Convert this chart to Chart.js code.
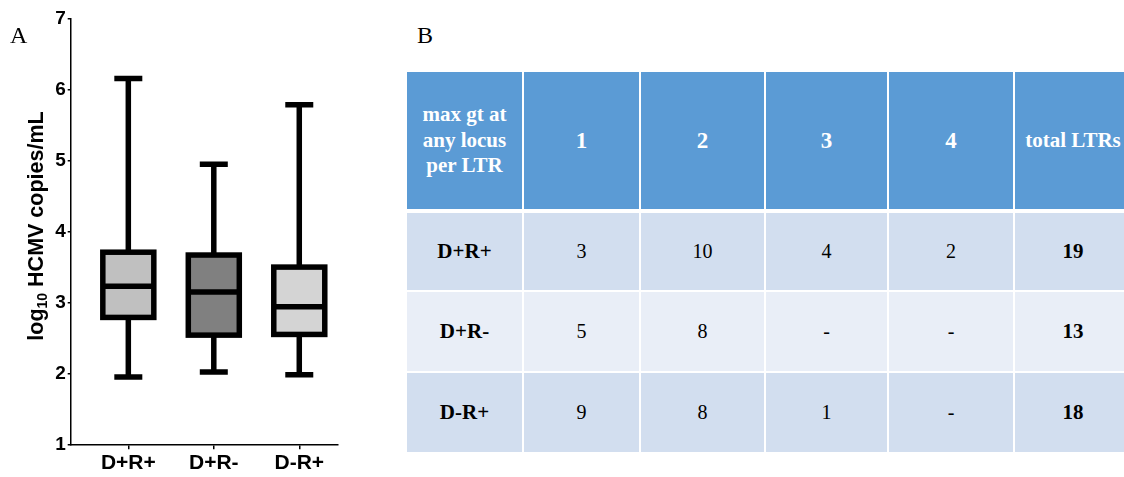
<!DOCTYPE html>
<html>
<head>
<meta charset="utf-8">
<script src="https://cdn.jsdelivr.net/npm/chart.js@4.4.1/dist/chart.umd.min.js"></script>
<style>
  html, body { margin: 0; padding: 0; background: #fff; }
  body { width: 1124px; height: 477px; position: relative; overflow: hidden; }
  #c { position: absolute; left: 0; top: 0; }
  .panel { position: absolute; font-family: "Liberation Serif", serif; font-size: 24px; line-height: 24px; color: #000; }
  #ytitle {
    position: absolute; left: 36px; top: 226px;
    transform: translate(-50%, -50%) rotate(-90deg);
    font-family: "Liberation Sans", Arial, sans-serif; font-weight: bold; font-size: 21.5px;
    white-space: nowrap; color: #000; line-height: 24px;
  }
  #ytitle sub { font-size: 14px; vertical-align: -4px; line-height: 0; }
  #tbl {
    position: absolute; left: 407px; top: 72px;
    display: grid;
    grid-template-columns: 115px 115px 123px 121px 124px 116px;
    grid-template-rows: 139px 77px 79px 79px;
    column-gap: 2px; row-gap: 2px;
    font-family: "Liberation Serif", "Times New Roman", serif;
  }
  #tbl div { display: flex; align-items: center; justify-content: center; text-align: center; }
  #tbl .hd { background: #5b9bd5; color: #fff; font-weight: bold; font-size: 21px; line-height: 25.5px; margin-bottom: 2px; }
  #tbl .hd.num { font-size: 23px; }
  #tbl .r0, #tbl .r2 { background: #d2deef; }
  #tbl .r1 { background: #e9eef7; }
  #tbl .cell { font-size: 20px; color: #000; }
  #tbl .b { font-weight: bold; font-size: 21px; }
</style>
</head>
<body>
<canvas id="c" width="360" height="477"></canvas>
<div id="ytitle">log<sub>10</sub> HCMV copies/mL</div>
<div class="panel" style="left:10px; top:23px;">A</div>
<div class="panel" style="left:417px; top:23px;">B</div>
<div id="tbl"></div>

<script>
// Transplant groups (donor/recipient serostatus)
const groups = ['D+R+', 'D+R-', 'D-R+'];

// Box plot summary per group, log10 HCMV copies/mL
const whiskerMin = [1.95, 2.02, 1.98];
const quartile1  = [2.79, 2.54, 2.55];
const medians    = [3.23, 3.15, 2.94];
const quartile3  = [3.71, 3.67, 3.50];
const whiskerMax = [6.16, 4.95, 5.79];
const boxFill    = ['#c0c0c0', '#808080', '#d4d4d4'];

// Y axis range and tick step
const yTicksMin = 1;
const yTicksMax = 7;

// Table: LTR counts by max genotypes at any locus
const tableCorner = 'max gt at<br>any locus<br>per LTR';
const gtLevels = ['1', '2', '3', '4'];
const totalLabel = 'total LTRs';
const gt1 = [3, 5, 9];
const gt2 = [10, 8, 8];
const gt3 = [4, null, 1];
const gt4 = [2, null, null];
const totalLTRs = [19, 13, 18];

// ---- table ----
(function buildTable() {
  const tbl = document.getElementById('tbl');
  const add = (cls, html) => {
    const d = document.createElement('div');
    d.className = cls;
    d.innerHTML = html;
    tbl.appendChild(d);
  };
  add('hd', tableCorner);
  gtLevels.forEach(g => add('hd num', g));
  add('hd', totalLabel);
  const cols = [gt1, gt2, gt3, gt4];
  groups.forEach((g, r) => {
    const rc = 'r' + r + ' cell';
    add(rc + ' b', g);
    cols.forEach(col => add(rc, col[r] == null ? '-' : String(col[r])));
    add(rc + ' b', String(totalLTRs[r]));
  });
})();

// ---- box plot ----
const boxOutline = {
  id: 'boxOutline',
  afterDatasetsDraw(chart) {
    const ctx = chart.ctx;
    const y = chart.scales.y;
    const meta = chart.getDatasetMeta(0);
    const lw = 5.5;
    const capHalf = 14;
    ctx.save();
    ctx.strokeStyle = '#000';
    ctx.lineWidth = lw;
    ctx.lineCap = 'butt';
    ctx.lineJoin = 'miter';
    meta.data.forEach((bar, i) => {
      const { x, width } = bar.getProps(['x', 'width'], true);
      const left = x - width / 2, right = x + width / 2;
      const top = y.getPixelForValue(quartile3[i]);
      const bot = y.getPixelForValue(quartile1[i]);
      const med = y.getPixelForValue(medians[i]);
      const hi = y.getPixelForValue(whiskerMax[i]);
      const lo = y.getPixelForValue(whiskerMin[i]);
      // whisker stems
      ctx.beginPath();
      ctx.moveTo(x, top); ctx.lineTo(x, hi);
      ctx.moveTo(x, bot); ctx.lineTo(x, lo);
      ctx.stroke();
      // caps
      ctx.beginPath();
      ctx.moveTo(x - capHalf, hi); ctx.lineTo(x + capHalf, hi);
      ctx.moveTo(x - capHalf, lo); ctx.lineTo(x + capHalf, lo);
      ctx.stroke();
      // box outline
      ctx.strokeRect(left, top, right - left, bot - top);
      // median
      ctx.beginPath();
      ctx.moveTo(left, med); ctx.lineTo(right, med);
      ctx.stroke();
    });
    ctx.restore();
  }
};

const sansBold = (size) => ({ family: '"Liberation Sans", Arial, sans-serif', weight: 'bold', size });

new Chart(document.getElementById('c'), {
  type: 'bar',
  data: {
    datasets: [{
      data: groups.map((g, i) => ({ x: i, y: [quartile1[i], quartile3[i]] })),
      backgroundColor: boxFill,
      borderWidth: 0,
      barThickness: 51
    }]
  },
  options: {
    responsive: false,
    animation: false,
    layout: { padding: { top: 19, right: 22, left: 0, bottom: 0 } },
    plugins: { legend: { display: false }, tooltip: { enabled: false } },
    scales: {
      x: {
        type: 'linear',
        offset: false,
        min: -0.674,
        max: 2.453,
        afterBuildTicks: s => { s.ticks = groups.map((g, i) => ({ value: i })); },
        afterFit: s => { s.height = 32.7; },
        ticks: {
          callback: v => groups[v],
          autoSkip: false,
          maxRotation: 0,
          color: '#000',
          padding: 1,
          font: sansBold(21)
        },
        grid: { offset: false, drawOnChartArea: false, tickLength: 5, color: '#000', lineWidth: 1.5 },
        border: { display: true, color: '#000', width: 1.5 }
      },
      y: {
        min: yTicksMin,
        max: yTicksMax,
        afterFit: s => { s.width = 70.7; },
        ticks: { stepSize: 1, color: '#000', padding: 2, font: sansBold(19) },
        grid: { drawOnChartArea: false, tickLength: 3, color: '#000', lineWidth: 1.5 },
        border: { display: true, color: '#000', width: 1.5 }
      }
    }
  },
  plugins: [boxOutline]
});
</script>
</body>
</html>
